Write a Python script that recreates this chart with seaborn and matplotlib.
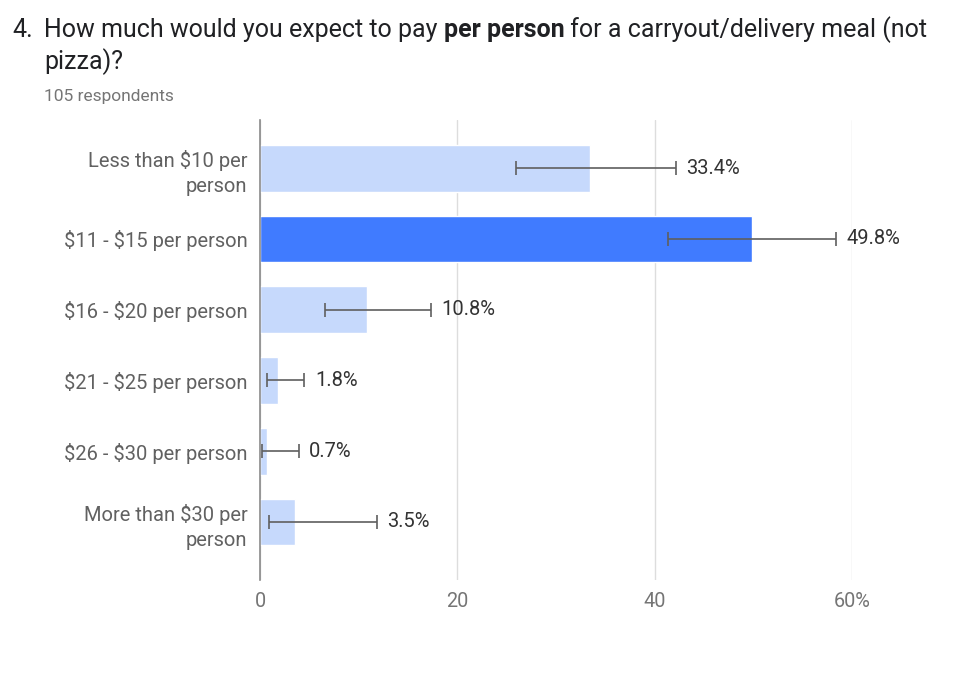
import numpy as np
import pandas as pd
import matplotlib
matplotlib.use('Agg')
import seaborn as sns
import matplotlib.pyplot as plt

categories = ["Less than $10 per\nperson", "$11 - $15 per person", "$16 - $20 per person",
              "$21 - $25 per person", "$26 - $30 per person", "More than $30 per\nperson"]
percent = [33.4, 49.8, 10.8, 1.8, 0.7, 3.5]
err_low = [25.9, 41.3, 6.6, 0.75, 0.2, 0.9]
err_high = [42.1, 58.4, 17.3, 4.5, 3.9, 11.8]
highlight = [False, True, False, False, False, False]
xticks = [0, 20, 40, 60]
xtick_labels = ["0", "20", "40", "60%"]

df = pd.DataFrame({"answer": categories, "pct": percent,
                   "hl": ["yes" if h else "no" for h in highlight]})

sns.set_style("white")
plt.rcParams['font.family'] = ['Roboto', 'DejaVu Sans']

fig = plt.figure(figsize=(9.74, 6.77), dpi=100)
ax = fig.add_axes([0.267, 0.1433, 0.608, 0.6794])

sns.barplot(data=df, y="answer", x="pct", hue="hl", dodge=False, orient="h",
            palette={"no": "#c6d9fc", "yes": "#407bff"}, width=0.66,
            saturation=1, legend=False, ax=ax)

y_pos = np.arange(len(categories))
pct = np.array(percent)
lo = pct - np.array(err_low)
hi = np.array(err_high) - pct
ax.errorbar(pct, y_pos, xerr=[lo, hi], fmt='none', ecolor='#5f5f5f',
            elinewidth=1.2, capsize=5.2, capthick=1.2, zorder=5)

for y, e, v in zip(y_pos, err_high, percent):
    ax.text(e + 1.05, y, f"{v}%", va='center', ha='left', fontsize=14.5,
            color='#333333', clip_on=False)

ax.set_xlim(0, 60)
ax.set_ylim(5.82, -0.68)
ax.set_xticks(xticks)
ax.set_xticklabels(xtick_labels, fontsize=14.3, color='#757575')
ax.tick_params(axis='x', length=0, pad=9)
ax.set_yticks(y_pos)
ax.set_yticklabels(categories, fontsize=14.5, color='#616161', linespacing=1.4)
ax.tick_params(axis='y', length=0, pad=9)
ax.set_xlabel("")
ax.set_ylabel("")
for lab in ax.get_yticklabels():
    lab.set_parse_math(False)
    lab.set_horizontalalignment('right')
    lab.set_multialignment('right')
ax.grid(axis='x', color='#dddddd', linewidth=1)
ax.set_axisbelow(True)
for s in ['top', 'right', 'bottom']:
    ax.spines[s].set_visible(False)
ax.spines['left'].set_color('#8a8a8a')
ax.spines['left'].set_linewidth(1.2)
ax.spines['left'].set_zorder(6)

# title with bold part
renderer = fig.canvas.get_renderer()
fig.text(12 / 974, 1 - 30 / 677, "4.", fontsize=18, color='#202124', va='center')
parts = [("How much would you expect to pay ", 'normal'),
         ("per person", 'bold'),
         (" for a carryout/delivery meal (not", 'normal')]
x0 = 44 / 974
ty = 1 - 30 / 677
for txt, w in parts:
    t = fig.text(x0, ty, txt, fontsize=18, fontweight=w, color='#202124', va='center')
    bb = t.get_window_extent(renderer=renderer)
    x0 += bb.width / fig.bbox.width
fig.text(44 / 974, 1 - 62 / 677, "pizza)?", fontsize=18, color='#202124', va='center')
fig.text(44 / 974, 1 - 97 / 677, "105 respondents", fontsize=12.5, color='#757575', va='center')

fig.savefig("out.png", dpi=100)
